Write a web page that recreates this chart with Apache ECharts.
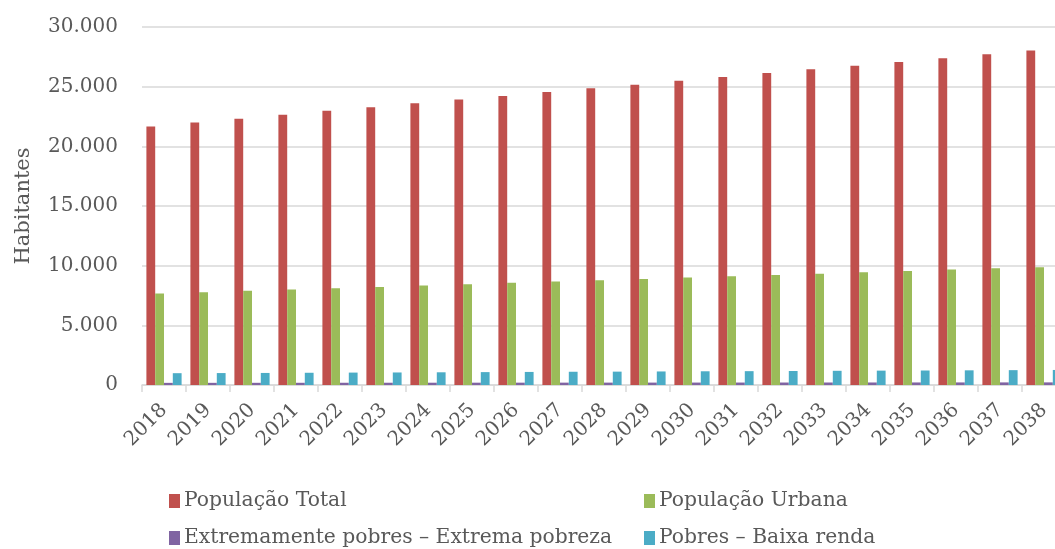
<!DOCTYPE html>
<html>
<head>
<meta charset="utf-8">
<script src="https://cdn.jsdelivr.net/npm/echarts@6/dist/echarts.min.js"></script>
<style>
html,body{margin:0;padding:0;background:#fff;}
#c{width:1055px;height:549px;}
</style>
</head>
<body>
<div id="c"></div>
<script>
const years = ['2018','2019','2020','2021','2022','2023','2024','2025','2026','2027','2028','2029','2030','2031','2032','2033','2034','2035','2036','2037','2038'];
const popTotal = [21670,22000,22310,22640,22975,23280,23610,23920,24225,24560,24870,25170,25500,25810,26140,26450,26750,27060,27390,27720,28030];
const popUrbana = [7660,7780,7890,8000,8110,8220,8330,8440,8560,8670,8780,8890,9000,9110,9220,9330,9440,9560,9670,9780,9860];
const extPobres = [180,182,184,186,188,190,192,194,196,198,200,202,204,206,208,210,212,214,216,218,220];
const pobres = [990,1000,1010,1025,1040,1050,1065,1080,1095,1110,1120,1135,1150,1160,1175,1190,1205,1215,1230,1245,1260];
const yTicks = {min:0, max:30000, interval:5000};
const names = ['População Total','População Urbana','Extremamente pobres – Extrema pobreza','Pobres – Baixa renda'];
const colors = ['#C0504D','#9BBB59','#8064A2','#4BACC6'];

const FONT = 'DejaVu Serif';
const TXT = '#595959';
const chart = echarts.init(document.getElementById('c'), null, {renderer:'canvas'});
const fmt = v => String(v).replace(/\B(?=(\d{3})+(?!\d))/g, '.');
const series = [popTotal, popUrbana, extPobres, pobres].map((d,i) => ({
  name: names[i], type:'bar', data:d, barGap:'0%', barCategoryGap:'20%',
  itemStyle:{color:colors[i]}, animation:false
}));
const legPos = [[169,491],[644,491],[169,528],[644,528]];
const legends = names.map((n,i) => ({
  data:[n], orient:'horizontal', left:legPos[i][0], top:legPos[i][1],
  itemWidth:11, itemHeight:14, icon:'rect', padding:0,
  textStyle:{fontFamily:FONT, fontSize:20.3, color:TXT, padding:[0,0,0,-1]}
}));
chart.setOption({
  animation:false,
  color: colors,
  grid:{left:142, top:27, width:924, height:358, containLabel:false, outerBoundsMode:'none'},
  legend: legends,
  xAxis:{type:'category', data:years,
    axisLine:{lineStyle:{color:'#D9D9D9', width:1.5}},
    axisTick:{show:true, length:7, lineStyle:{color:'#D9D9D9', width:1.5}},
    axisLabel:{rotate:45, fontFamily:FONT, fontSize:20, color:TXT, margin:22}
  },
  yAxis:{type:'value', min:yTicks.min, max:yTicks.max, interval:yTicks.interval,
    name:'Habitantes', nameLocation:'middle', nameGap:108, nameRotate:90,
    nameTextStyle:{fontFamily:FONT, fontSize:21, color:TXT},
    axisLine:{show:false}, axisTick:{show:false},
    splitLine:{lineStyle:{color:'#D9D9D9', width:1.5}},
    axisLabel:{fontFamily:FONT, fontSize:20, color:TXT, margin:24, formatter:fmt}
  },
  series: series
});
</script>
</body>
</html>
